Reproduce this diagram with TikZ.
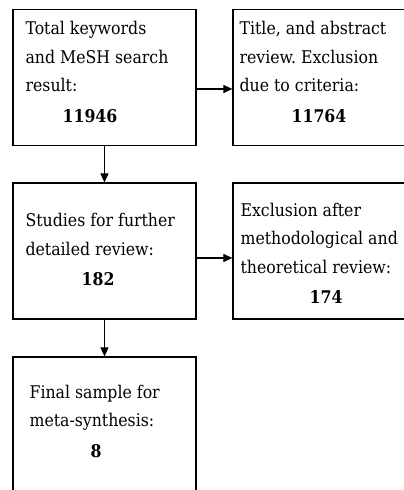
\documentclass[tikz,border=0pt]{standalone}
\usepackage{fontspec}
\setmainfont{DejaVu Serif Condensed}
\usetikzlibrary{arrows.meta}
\begin{document}
\begin{tikzpicture}[x=1pt,y=-1pt,
   stage/.style={draw,black,line width=1.2pt,minimum width=183pt,minimum height=136pt,inner sep=0pt},
   stagetext/.style={anchor=west,align=left,inner sep=0pt,font=\fontsize{17.5}{28.5}\selectfont},
   flow/.style={black,line width=1.1pt,-{Triangle[length=9pt,width=8pt]}}]
   \useasboundingbox (0,0) rectangle (404,490);
   \clip (0,0) rectangle (404,490);

   \node[stage] (search) at (104.5,77.5) {};
   \node[stage] (screen) at (324.5,77.5) {};
   \node[stage] (detail) at (104.5,251) {};
   \node[stage] (exclude) at (324.5,251) {};
   \node[stage] (final) at (104.5,425) {};

   \node[stagetext,yshift=5.5pt] (searchtext) at ([xshift=13pt]search.west) {Total keywords\\and MeSH search\\result:\\[2pt]\hspace*{37pt}\textbf{11946}};
   \node[stagetext,yshift=5.5pt] (screentext) at ([xshift=7pt]screen.west) {Title, and abstract\\review.\ Exclusion\\due to criteria:\\[2pt]\hspace*{52pt}\textbf{11764}};
   \node[stagetext,yshift=1.5pt] (detailtext) at ([xshift=13pt]detail.west) {Studies for further\\detailed review:\\[2pt]\hspace*{56pt}\textbf{182}};
   \node[stagetext,yshift=-2.5pt] (excludetext) at ([xshift=8pt]exclude.west) {Exclusion after\\methodological and\\theoretical review:\\[2pt]\hspace*{69pt}\textbf{174}};
   \node[stagetext,yshift=4pt] (finaltext) at ([xshift=17pt]final.west) {Final sample for\\meta-synthesis:\\[2pt]\hspace*{61pt}\textbf{8}};

   \draw[flow] ([yshift=-11.5pt]search.east) -- ([yshift=-11.5pt]screen.west);
   \draw[flow] ([yshift=-7pt]detail.east) -- ([yshift=-7pt]exclude.west);
   \draw[flow] (search) -- (detail);
   \draw[flow] (detail) -- (final);
\end{tikzpicture}
\end{document}
